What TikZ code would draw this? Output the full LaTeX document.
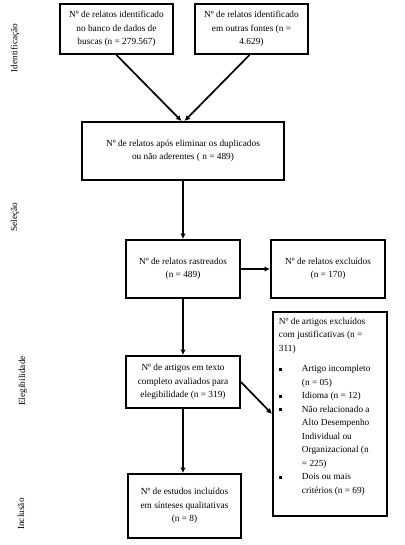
\documentclass[tikz,border=0pt]{standalone}
\usepackage{fontspec}
\setmainfont{Liberation Serif}
\usetikzlibrary{arrows.meta,positioning}
\newcommand{\flowfont}{\fontsize{9.3}{13.5}\selectfont}
\newcommand{\blt}{\makebox[23pt][l]{\rule[1.3pt]{3pt}{3pt}}}
\newcommand{\ind}{\hspace*{23pt}}

\begin{document}
\begin{tikzpicture}[x=1pt,y=-1pt,>={Latex[length=5.5pt,width=5.5pt]},
  box/.style={draw,line width=1.9pt,align=center,font=\flowfont,inner sep=3pt},
  flow/.style={->,line width=1.7pt},
  phase/.style={rotate=90,font=\flowfont}]
\useasboundingbox (0,0) rectangle (404,545);
% phases on the left
\node[phase] (ident) at (15,48) {Identificação};
\node[phase] (selec) at (15,217) {Seleção};
\node[phase] (elegib) at (23,381) {Elegibilidade};
\node[phase] (inclus) at (21,514) {Inclusão};
% boxes
\node[box,minimum width=113pt,minimum height=50pt] (banco) at (116.5,29)
  {Nº de relatos identificado\\no banco de dados de\\buscas (n = 279.567)};
\node[box,minimum width=113pt,minimum height=50pt] (outras) at (251.5,29)
  {Nº de relatos identificado\\em outras fontes (n =\\4.629)};
\node[box,minimum width=202pt,minimum height=58pt] (triagem) at (183,151)
  {Nº de relatos após eliminar os duplicados\\ou não aderentes ( n = 489)};
\node[box,minimum width=114pt,minimum height=58pt] (rastreados) at (183,269)
  {Nº de relatos rastreados\\(n = 489)};
\node[box,minimum width=114pt,minimum height=58pt] (excluidos) at (328,269)
  {Nº de relatos excluídos\\(n = 170)};
\node[box,minimum width=114pt,minimum height=52pt] (elegiveis) at (183,382)
  {Nº de artigos em texto\\completo avaliados para\\elegibilidade (n = 319)};
\node[box,anchor=north west,inner sep=6pt] (justif) at (272,311)
  {\parbox[t][192pt][t]{102pt}{\raggedright\flowfont
  Nº de artigos excluídos\\
  com justificativas (n =\\
  311)\\[7pt]
  \blt Artigo incompleto\\
  \ind(n = 05)\\
  \blt Idioma (n = 12)\\
  \blt Não relacionado a\\
  \ind Alto Desempenho\\
  \ind Individual ou\\
  \ind Organizacional (n\\
  \ind = 225)\\
  \blt Dois ou mais\\
  \ind critérios (n = 69)}};
\node[box,minimum width=113pt,minimum height=64pt] (incluidos) at (184.5,506)
  {Nº de estudos incluídos\\em sínteses qualitativas\\(n = 8)};
% connectors
\draw[flow] (banco.south) -- ([xshift=-1.5pt]triagem.north);
\draw[flow] ([xshift=-2pt]outras.south) -- ([xshift=1.5pt]triagem.north);
\draw[flow] (triagem.south) -- (rastreados.north);
\draw[flow] (rastreados.east) -- (excluidos.west);
\draw[flow] (rastreados.south) -- (elegiveis.north);
\draw[flow] (elegiveis.east) -- (justif.west);
\draw[flow] (elegiveis.south) -- (elegiveis.south |- incluidos.north);
\end{tikzpicture}
\end{document}
